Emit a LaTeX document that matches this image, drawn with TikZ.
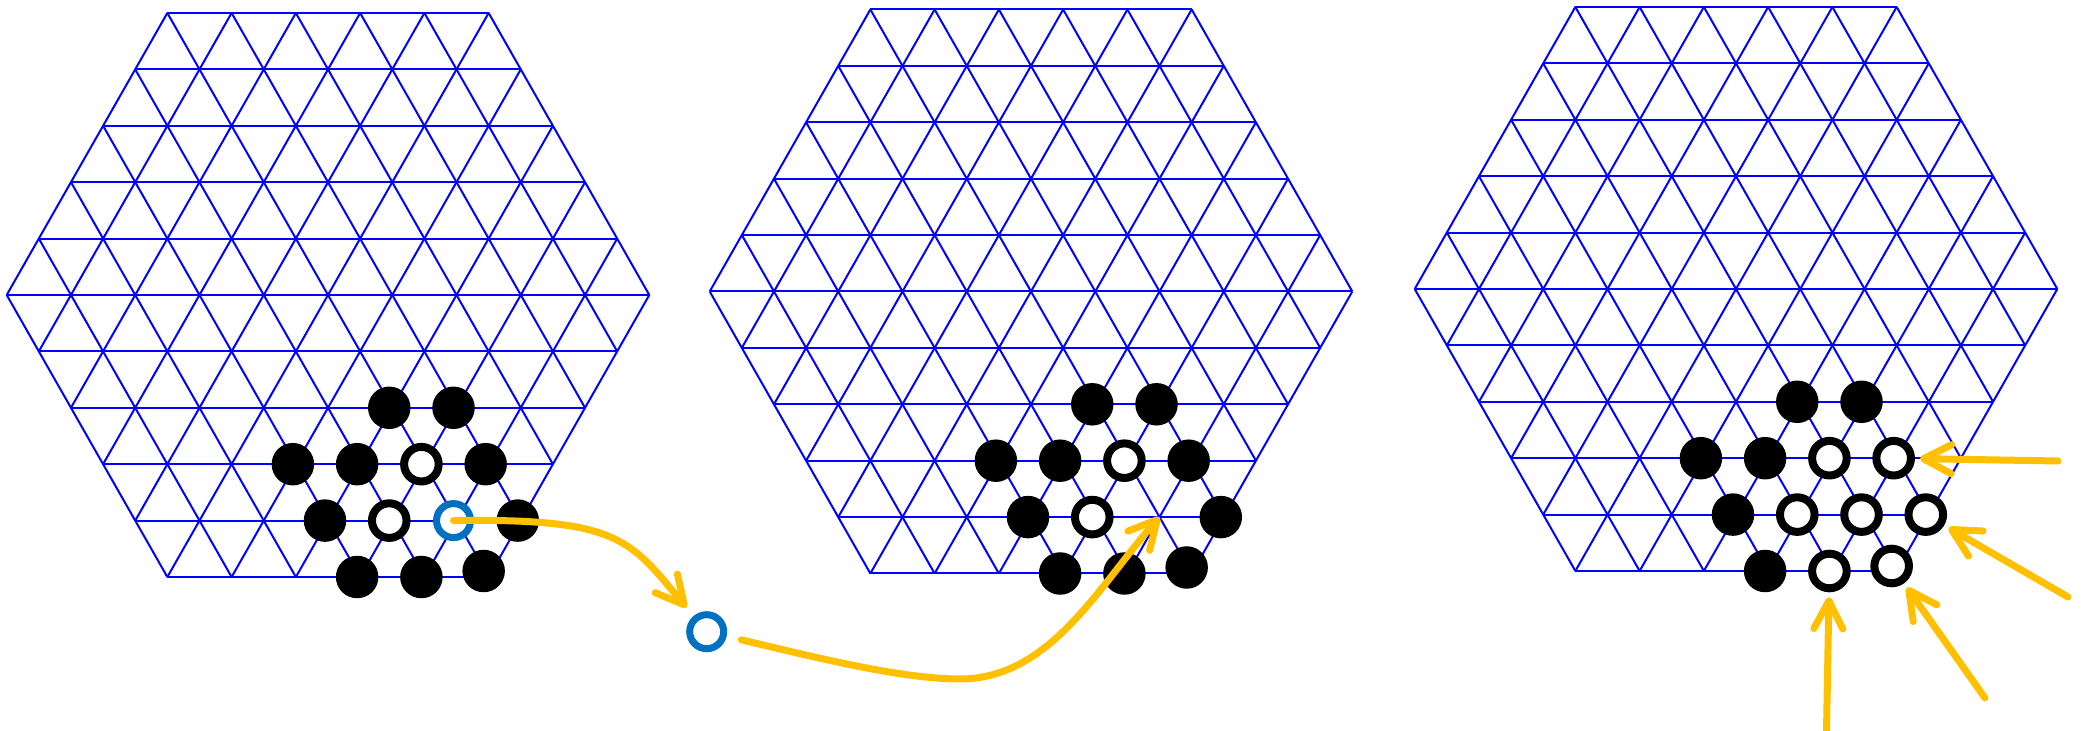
\documentclass[tikz,border=0pt]{standalone}
\usetikzlibrary{arrows.meta}
\definecolor{gridblue}{RGB}{0,0,255}
\definecolor{stoneblue}{RGB}{0,112,192}
\definecolor{gold}{RGB}{255,192,0}
\tikzset{
	gridline/.style={gridblue,line width=0.2mm},
	blackstone/.style={circle,fill=black,inner sep=0pt,minimum size=4.25mm,xshift=-0.3mm},
	whitestone/.style={circle,draw=black,fill=white,line width=0.8mm,inner sep=0pt,minimum size=3.46mm,xshift=-0.3mm},
	bluestone/.style={whitestone,draw=stoneblue,line width=0.7mm,minimum size=3.4mm},
	move/.style={gold,line width=0.7mm,line cap=round,-{Straight Barb[length=2.8mm,width=2.9mm,round]}},
	board/.style={shift={#1},yscale=1.0135},
}
\begin{document}
\begin{tikzpicture}[x=0.1mm,y=-0.1mm,line join=round]
\useasboundingbox (0,0) rectangle (2085,731);
\foreach \bx/\by in {328/295,1031/291.5,1736/289}{
	\begin{scope}[board={(\bx,\by)}]
		\foreach \r in {0,60,120}\foreach \k in {-5,...,5}
			\draw[gridline,rotate=\r] ({-64.26*(5-abs(\k)/2)},{55.65*\k}) -- ({64.26*(5-abs(\k)/2)},{55.65*\k});
	\end{scope}
}
\begin{scope}[board={(328,295)}]
	\foreach \u/\k [count=\i] in {0/2,1/2,-2/3,-1/3,1/3,-2/4,1/4,-2/5,-1/5}
		\node[blackstone] (k1-\i) at ({64.26*(\u+\k/2)},{55.65*\k}) {};
	\node[blackstone,xshift=-0.2mm,yshift=0.6mm] (k1-10) at ({64.26*2.5},{55.65*5}) {};
	\foreach \u/\k [count=\i] in {0/3,-1/4}
		\node[whitestone] (w1-\i) at ({64.26*(\u+\k/2)},{55.65*\k}) {};
	\node[bluestone] (m1) at ({64.26*2},{55.65*4}) {};
\end{scope}
\begin{scope}[board={(1031,291.5)}]
	\foreach \u/\k [count=\i] in {0/2,1/2,-2/3,-1/3,1/3,-2/4,1/4,-2/5,-1/5}
		\node[blackstone] (k2-\i) at ({64.26*(\u+\k/2)},{55.65*\k}) {};
	\node[blackstone,xshift=-0.2mm,yshift=0.6mm] (k2-10) at ({64.26*2.5},{55.65*5}) {};
	\foreach \u/\k [count=\i] in {0/3,-1/4}
		\node[whitestone] (w2-\i) at ({64.26*(\u+\k/2)},{55.65*\k}) {};
	\coordinate (g2) at ({64.26*2},{55.65*4});
\end{scope}
\begin{scope}[board={(1736,289)}]
	\foreach \u/\k [count=\i] in {0/2,1/2,-2/3,-1/3,-2/4,-2/5}
		\node[blackstone] (k3-\i) at ({64.26*(\u+\k/2)},{55.65*\k}) {};
	\foreach \u/\k [count=\i] in {0/3,1/3,-1/4,0/4,1/4,-1/5}
		\node[whitestone] (w3-\i) at ({64.26*(\u+\k/2)},{55.65*\k}) {};
	\node[whitestone,xshift=-0.2mm,yshift=0.5mm] (w3-7) at ({64.26*2.5},{55.65*5}) {};
\end{scope}
\node[bluestone,xshift=0.3mm] (m0) at (706.7,631.7) {};
\path (2058,461) coordinate (ta) (2068,597) coordinate (tb)
	(1985,698) coordinate (tc) (1826.5,731) coordinate (td);
\draw[move,shorten >=1.1mm] (m1.center) .. controls (620,518) and (630,540) .. (m0);
\draw[move,shorten <=1.5mm] (m0) .. controls (810,656) and (900,679) .. (960,679)
	.. controls (1050,679) and (1098.5,586.4) .. (g2);
\foreach \t/\s in {ta/w3-2,tb/w3-5,tc/w3-7,td/w3-6}
	\draw[move,shorten >=0.5mm] (\t) -- (\s);
\end{tikzpicture}
\end{document}
